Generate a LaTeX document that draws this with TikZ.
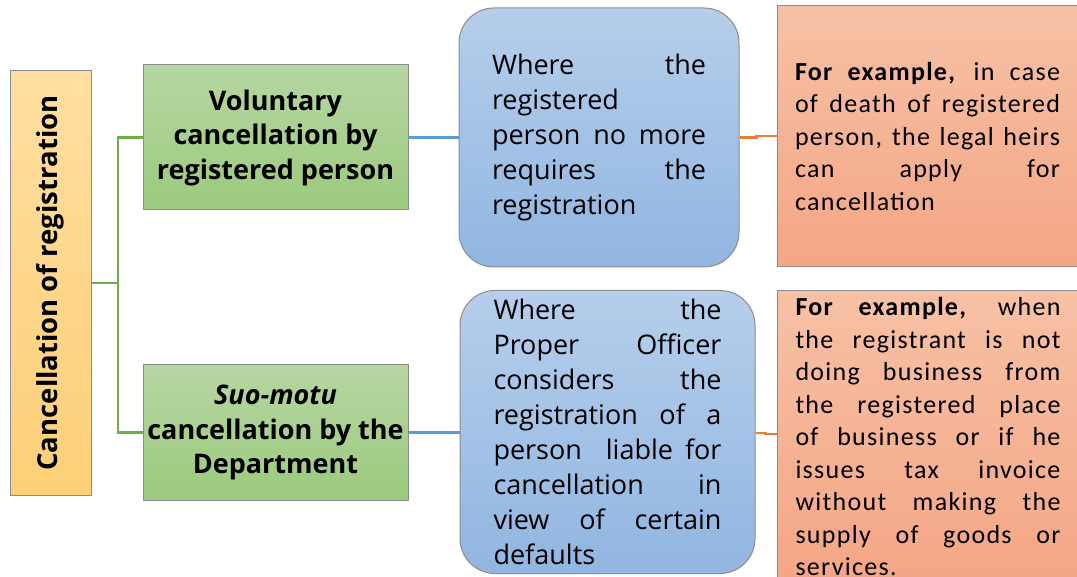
\documentclass[tikz,border=0pt]{standalone}
\usepackage{fontspec}
\setmainfont{Open Sans}
\newfontfamily\calfont[LetterSpace=5]{Carlito}
\usetikzlibrary{calc}
\definecolor{gline}{HTML}{70AD47}
\definecolor{bline}{HTML}{5B9BD5}
\definecolor{oline}{HTML}{ED7D31}
\definecolor{bord}{HTML}{8C8C8C}
\newcommand{\jline}[2]{\makebox[#1][s]{#2}}
\newcommand{\lline}[2]{\makebox[#1][l]{#2}}
\tikzset{
  base/.style={draw=bord, line width=1pt, inner sep=0pt},
  obox/.style={base, top color={rgb,255:red,255;green,223;blue,160}, bottom color={rgb,255:red,253;green,207;blue,120}},
  gbox/.style={base, top color={rgb,255:red,182;green,214;blue,162}, bottom color={rgb,255:red,156;green,202;blue,126}, align=center, font=\fontsize{27}{34.5}\selectfont\bfseries},
  bbox/.style={base, rounded corners=35pt, top color={rgb,255:red,182;green,206;blue,235}, bottom color={rgb,255:red,145;green,182;blue,225}, align=left, font=\fontsize{27}{35}\selectfont},
  sbox/.style={base, top color={rgb,255:red,247;green,193;blue,166}, bottom color={rgb,255:red,244;green,166;blue,133}, align=left, font=\calfont\fontsize{26}{32.5}\selectfont},
  gcon/.style={draw=gline, line width=2.4pt},
  bcon/.style={draw=bline, line width=2.4pt},
  ocon/.style={draw=oline, line width=2.4pt},
}
\begin{document}
\begin{tikzpicture}[x=1pt,y=1pt]
\useasboundingbox (0,0) rectangle (1077,-577);
\fill[white] (0,0) rectangle (1077,-577);
\node[obox, minimum width=81pt, minimum height=424pt] (root) at (50.5,-283) {};
\node[rotate=90, font=\fontsize{27.5}{30}\selectfont\bfseries] (roottxt) at (root.center) {Cancellation of registration};
\node[gbox, minimum width=265pt, minimum height=145pt] (g1) at (275.5,-137.5) {Voluntary\\cancellation by\\registered person};
\node[gbox, minimum width=265pt, minimum height=135pt] (g2) at (275.5,-432.5) {\textit{Suo-motu}\\cancellation by the\\Department};
\node[bbox, minimum width=280pt, minimum height=259pt] (b1) at (599,-137.5) {\jline{214pt}{Where the}\\\lline{214pt}{registered}\\\jline{214pt}{person no more}\\\jline{214pt}{requires the}\\\lline{214pt}{registration}};
\node[bbox, minimum width=295pt, minimum height=283pt] (b2) at (607.5,-432) {\jline{228pt}{Where the}\\\jline{228pt}{Proper Officer}\\\jline{228pt}{considers the}\\\jline{228pt}{registration of a}\\\jline{228pt}{person \ liable for}\\\jline{228pt}{cancellation in}\\\jline{228pt}{view of certain}\\\lline{228pt}{defaults}};
\node[sbox, minimum width=301pt, minimum height=261pt] (s1) at (927.5,-136) {\jline{265pt}{\textbf{For example,} in case}\\\jline{265pt}{of death of registered}\\\jline{265pt}{person, the legal heirs}\\\jline{265pt}{can apply for}\\\lline{265pt}{cancellation}};
\node[sbox, minimum width=301pt, minimum height=292pt, anchor=north west] (s2) at (777,-290) {\jline{265pt}{\textbf{For example,} when}\\\jline{265pt}{the registrant is not}\\\jline{265pt}{doing business from}\\\jline{265pt}{the registered place}\\\jline{265pt}{of business or if he}\\\jline{265pt}{issues tax invoice}\\\jline{265pt}{without making the}\\\jline{265pt}{supply of goods or}\\\lline{265pt}{services.}};
\coordinate (j) at (118,-283);
\coordinate (s2in) at ($(s2.north west)+(0,-144)$);
\draw[gcon] (root.east) -- (j);
\draw[gcon] (g1.west) -| (j);
\draw[gcon] (g2.west) -| (j);
\draw[bcon] (g1.east) -- (b1.west);
\draw[bcon] (g2.east) -- (g2.east -| b2.west);
\draw[ocon] (b1.east) -- ++(17,0) |- (s1.west);
\draw[ocon] (b2.east) ++(0,-1) -- ++(10,0) |- (s2in);
\end{tikzpicture}
\end{document}
